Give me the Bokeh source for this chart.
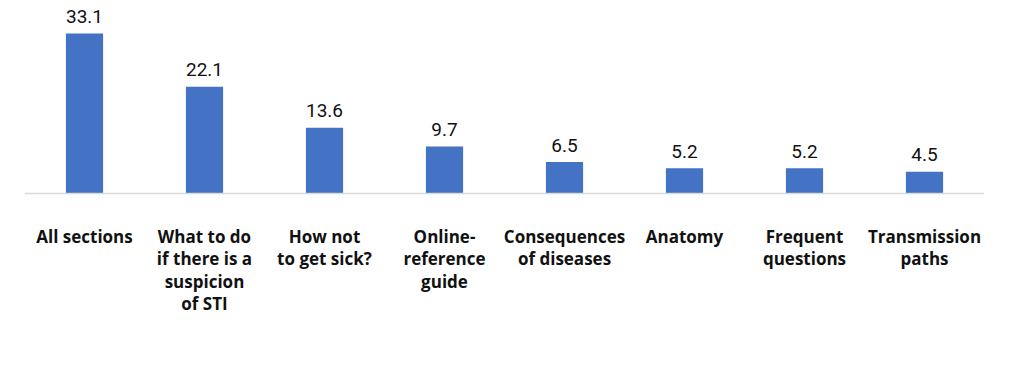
from bokeh.plotting import figure
from bokeh.models import ColumnDataSource, FactorRange, Range1d, Span
from bokeh.core.properties import value
from bokeh.embed import file_html
from bokeh.resources import INLINE

categories = ["All sections", "What to do if there is a suspicion of STI", "How not to get sick?",
              "Online-reference guide", "Consequences of diseases", "Anatomy",
              "Frequent questions", "Transmission paths"]
values = [33.1, 22.1, 13.6, 9.7, 6.5, 5.2, 5.2, 4.5]
tick_labels = ["All sections", "What to do\nif there is a\nsuspicion\nof STI", "How not\nto get sick?",
               "Online-\nreference\nguide", "Consequences\nof diseases", "Anatomy",
               "Frequent\nquestions", "Transmission\npaths"]

src = ColumnDataSource(dict(
    cat=categories,
    val=values,
    vlabel=["%.1f" % v for v in values],
    tlabel=tick_labels,
    zero=[0] * len(values),
))

s = 160 / 33.1  # px per unit
H = 349
TOP = 8
BASE = 193
p = figure(width=994, height=H, output_backend="svg", toolbar_location=None,
           x_range=FactorRange(factors=categories, range_padding=0),
           y_range=Range1d(-(H - BASE) / s, (BASE - TOP) / s),
           x_axis_location=None, y_axis_location=None,
           min_border_left=24, min_border_right=10, min_border_top=TOP, min_border_bottom=0)
p.outline_line_color = None
p.xgrid.visible = False
p.ygrid.visible = False
p.background_fill_color = "white"
p.border_fill_color = "white"

p.add_layout(Span(location=0, dimension="width", line_color="#D9D9D9", line_width=1.5))

p.vbar(x="cat", top="val", bottom=0, width=0.31, source=src, fill_color="#4472C4", line_color=None)

p.text(x="cat", y="val", text="vlabel", source=src, text_align="center", text_baseline="alphabetic",
       y_offset=-17, text_font=value("Roboto"), text_font_size="19px", text_color="#111111")

p.text(x="cat", y="zero", text="tlabel", source=src, text_align="center", text_baseline="top",
       y_offset=31, text_font=value("Open Sans"), text_font_style="bold", text_font_size="17px",
       text_line_height=0.98, text_color="#111111")

open("out.html", "w").write(file_html(p, INLINE))
